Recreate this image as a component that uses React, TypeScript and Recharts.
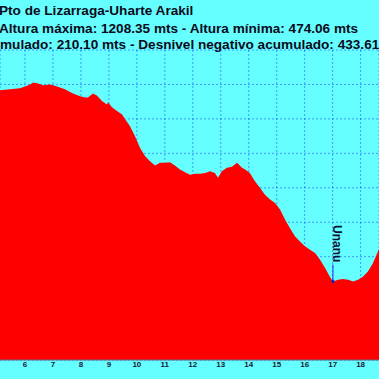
import React from 'react';
import { AreaChart, Area, XAxis, YAxis, CartesianGrid, ReferenceDot } from 'recharts';

// distance along the route (km)
const distances = [
  5.0, 5.11, 5.46, 5.82, 6.0, 6.18, 6.29, 6.47, 6.64, 6.89, 7.07, 7.25, 7.43, 7.54, 7.72, 7.97,
  8.15, 8.25, 8.43, 8.57, 8.75, 8.93, 8.97, 9.11, 9.29, 9.47, 9.58, 9.75, 9.93, 10.11, 10.29,
  10.47, 10.65, 10.83, 11.01, 11.18, 11.36, 11.54, 11.72, 11.9, 12.08, 12.26, 12.44, 12.61,
  12.79, 12.9, 13.04, 13.22, 13.4, 13.58, 13.76, 13.87, 14.04, 14.22, 14.4, 14.58, 14.76,
  14.94, 15.12, 15.3, 15.47, 15.65, 15.83, 16.01, 16.19, 16.37, 16.55, 16.73, 16.9, 17.01,
  17.19, 17.37, 17.55, 17.73, 17.91, 18.08, 18.26, 18.44, 18.62, 18.8,
];

// altitude (m)
const altitudes = [
  1180, 1183, 1186, 1189, 1194, 1200, 1206, 1203, 1198, 1200, 1196, 1191, 1186, 1181, 1174, 1166,
  1162, 1162, 1174, 1168, 1152, 1142, 1148, 1134, 1123, 1113, 1099, 1079, 1050, 1016, 992,
  977, 965, 973, 973, 974, 965, 953, 945, 938, 941, 941, 943, 948,
  943, 929, 948, 958, 961, 973, 958, 953, 943, 919, 900, 880, 866,
  856, 837, 807, 783, 759, 744, 730, 720, 711, 691, 667, 642, 628,
  633, 635, 633, 628, 633, 642, 657, 681, 715, 750,
];

const kmTicks = [6, 7, 8, 9, 10, 11, 12, 13, 14, 15, 16, 17, 18];
const altTicks = [400, 500, 600, 700, 800, 900, 1000, 1100, 1200, 1300];

const titleLines = [
  'Pto de Lizarraga-Uharte Arakil',
  'Altura máxima: 1208.35 mts - Altura mínima: 474.06 mts',
  'Desnivel positivo acumulado: 210.10 mts - Desnivel negativo acumulado: 433.61 mts',
];

const waypoint = { name: 'Unanu', km: 17.01, alt: 628 };

const data = distances.map((km, i) => ({ km, alt: altitudes[i] }));

const UnanuMark = (props: any) => {
  const { cx, cy } = props;
  return (
    <g>
      <line x1={cx} y1={cy} x2={cx} y2={cy - 17} stroke="#2a2aff" strokeWidth={1} />
      <circle cx={cx} cy={cy} r={1.6} fill="#2020c0" />
      <text
        transform={`translate(${cx + 0.5}, ${cy - 19}) rotate(90)`}
        textAnchor="end"
        fontFamily="Liberation Sans, Arial, sans-serif"
        fontWeight="bold"
        fontSize={12}
        fill="#111133"
      >
        {waypoint.name}
      </text>
    </g>
  );
};

export default function App() {
  return (
    <div style={{ position: 'absolute', left: 0, top: 0, width: 379, height: 379, background: '#66ffff', overflow: 'hidden' }}>
      <AreaChart width={379} height={379} data={data} margin={{ top: 50, right: 0, bottom: 0, left: 0 }}>
        <XAxis
          dataKey="km"
          type="number"
          domain={[5.106, 18.657]}
          allowDataOverflow
          ticks={kmTicks}
          height={19}
          tickLine={false}
          tickSize={1}
          axisLine={{ stroke: '#6a6a88' }}
          tick={{ fontSize: 8, fontWeight: 'bold', fill: '#1a1a3a', fontFamily: 'Liberation Sans, Arial, sans-serif' }}
          tickMargin={0}
          interval={0}
        />
        <YAxis type="number" domain={[400, 1300]} ticks={altTicks} allowDataOverflow hide width={0} />
        <Area
          dataKey="alt"
          type="linear"
          stroke="none"
          fill="#ff0000"
          fillOpacity={1}
          baseValue={400}
          isAnimationActive={false}
        />
        <CartesianGrid stroke="#0000ff" strokeOpacity={0.4} strokeDasharray="2 2" />
        <ReferenceDot x={waypoint.km} y={waypoint.alt} shape={UnanuMark} ifOverflow="visible" />
      </AreaChart>
      <svg width={379} height={60} style={{ position: 'absolute', left: 0, top: 0, pointerEvents: 'none' }}>
        <g fontFamily="Liberation Sans, Arial, sans-serif" fontWeight="bold" fontSize={13.6} fill="#0a0a20">
          <text x={-1} y={14.5}>{titleLines[0]}</text>
          <text x={-1} y={32.5}>{titleLines[1]}</text>
          <text x={-139} y={49}>{titleLines[2]}</text>
        </g>
      </svg>
    </div>
  );
}
